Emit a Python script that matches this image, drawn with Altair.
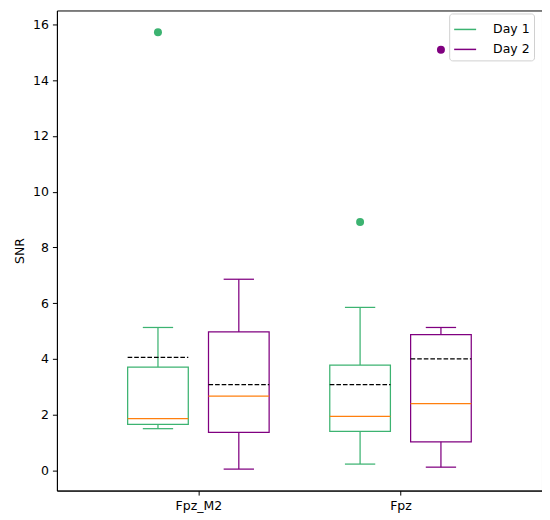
import json
import altair as alt
import pandas as pd

# ---- data ----
sites = ["Fpz_M2", "Fpz"]
days = ["Day 1", "Day 2"]
# per (site, day) in order: Fpz_M2/Day1, Fpz_M2/Day2, Fpz/Day1, Fpz/Day2
box_site = ["Fpz_M2", "Fpz_M2", "Fpz", "Fpz"]
box_day = ["Day 1", "Day 2", "Day 1", "Day 2"]
whisk_lo = [1.50, 0.05, 0.23, 0.12]
q1 = [1.65, 1.37, 1.40, 1.03]
median = [1.86, 2.67, 1.94, 2.40]
q3 = [3.71, 4.97, 3.78, 4.87]
whisk_hi = [5.13, 6.86, 5.85, 5.13]
mean = [4.06, 3.08, 3.08, 4.00]
out_site = ["Fpz_M2", "Fpz", "Fpz"]
out_day = ["Day 1", "Day 1", "Day 2"]
out_val = [15.72, 8.91, 15.09]

# ---- styling / layout constants ----
GREEN = "#3cb371"
PURPLE = "#800080"
ORANGE = "#ff7f0e"
FONT = "DejaVu Sans"
FS = 12.5
DAY_OFFSET = {"Day 1": -0.2, "Day 2": 0.2}
BOX_W = 0.3
CAP_W = 0.15
LW = 1.25

def center(site, day):
    return sites.index(site) + 1 + DAY_OFFSET[day]

df = pd.DataFrame({
    "site": box_site, "day": box_day, "lo": whisk_lo, "q1": q1,
    "median": median, "q3": q3, "hi": whisk_hi, "mean": mean,
})
df["pos"] = [center(s, d) for s, d in zip(df.site, df.day)]
df["bx0"] = df["pos"] - BOX_W / 2
df["bx1"] = df["pos"] + BOX_W / 2
df["cx0"] = df["pos"] - CAP_W / 2
df["cx1"] = df["pos"] + CAP_W / 2

odf = pd.DataFrame({"site": out_site, "day": out_day, "val": out_val})
odf["pos"] = [center(s, d) for s, d in zip(odf.site, odf.day)]

label_expr = "%s[datum.value - 1]" % json.dumps(sites)

xscale = alt.Scale(domain=[0.3, 2.7], nice=False, zero=False)
yscale = alt.Scale(domain=[-0.72, 16.5], nice=False, zero=False)
xaxis = alt.Axis(values=[1, 2], labelExpr=label_expr, title=None, grid=False,
                 labelFontSize=FS, labelFont=FONT, labelColor="black",
                 tickColor="black", domainColor="black", tickSize=4.5,
                 labelPadding=4, labelAngle=0)
yaxis = alt.Axis(values=list(range(0, 17, 2)), title="SNR", grid=False,
                 labelFontSize=FS, labelFont=FONT, labelColor="black",
                 titleFont=FONT, titleFontSize=FS, titleFontWeight="normal",
                 titleColor="black", tickColor="black", domainColor="black",
                 tickSize=4.5, labelPadding=4, titlePadding=6)

color = alt.Color("day:N", scale=alt.Scale(domain=days, range=[GREEN, PURPLE]),
                  legend=alt.Legend(title=None, symbolType="stroke"))

base = alt.Chart(df)

whisk_low = base.mark_rule(strokeWidth=LW).encode(
    x=alt.X("pos:Q", scale=xscale, axis=xaxis),
    y=alt.Y("lo:Q", scale=yscale, axis=yaxis), y2="q1:Q", color=color)
whisk_up = base.mark_rule(strokeWidth=LW).encode(
    x="pos:Q", y="q3:Q", y2="hi:Q", color=color)
cap_low = base.mark_rule(strokeWidth=LW).encode(
    x="cx0:Q", x2="cx1:Q", y="lo:Q", color=color)
cap_up = base.mark_rule(strokeWidth=LW).encode(
    x="cx0:Q", x2="cx1:Q", y="hi:Q", color=color)
box = base.mark_rect(filled=False, strokeWidth=LW).encode(
    x="bx0:Q", x2="bx1:Q", y="q1:Q", y2="q3:Q", color=color)
med = base.mark_rule(strokeWidth=LW, color=ORANGE).encode(
    x="bx0:Q", x2="bx1:Q", y="median:Q")
mn = base.mark_rule(strokeWidth=LW, color="black", strokeDash=[4.6, 2]).encode(
    x="bx0:Q", x2="bx1:Q", y="mean:Q")
outl = alt.Chart(odf).mark_circle(size=64, opacity=1).encode(
    x="pos:Q", y="val:Q", color=color)

chart = alt.layer(whisk_low, whisk_up, cap_low, cap_up, box, med, mn, outl).properties(
    width=486, height=481,
    autosize=alt.AutoSizeParams(type="none"),
    padding={"left": 49, "top": 2, "right": 0, "bottom": 27},
).configure_view(
    stroke="black", strokeWidth=1
).configure_legend(
    orient="none", legendX=393, legendY=3,
    fillColor="white", strokeColor="#d0d0d0", cornerRadius=3,
    padding=4, labelFont=FONT, labelFontSize=FS, labelColor="black",
    symbolSize=484, symbolStrokeWidth=1.5, labelOffset=16, rowPadding=1,
)

chart.save("out.html", embed_options={"renderer": "svg", "actions": False})
